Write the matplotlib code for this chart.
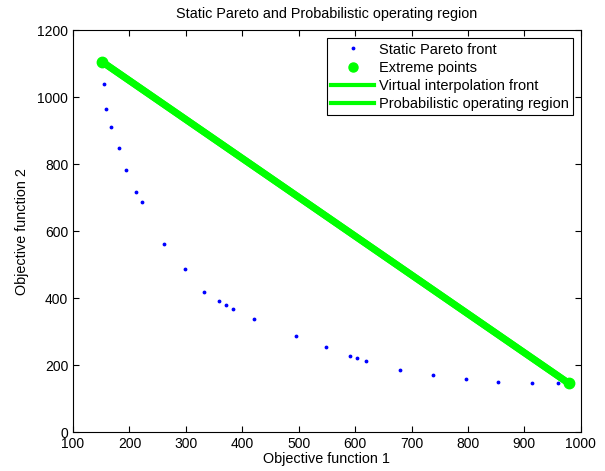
import numpy as np
import matplotlib
matplotlib.use('Agg')
import matplotlib.pyplot as plt

plt.rcParams['font.family'] = ['Liberation Sans', 'DejaVu Sans']

# static pareto front points
pareto_f1 = [155, 158, 167, 181, 194, 212, 222, 262, 298, 333, 359, 371, 384, 420,
             496, 549, 591, 604, 620, 680, 738, 797, 854, 913, 960]
pareto_f2 = [1040, 964, 912, 849, 781, 717, 686, 561, 486, 418, 391, 379, 367, 338,
             287, 254, 227, 220, 212, 185, 170, 158, 149, 146, 145]

# extreme points
extreme_f1 = [152, 979]
extreme_f2 = [1105, 145]

fig = plt.figure(figsize=(6.05, 4.71), dpi=100)
ax = fig.add_axes([0.1207, 0.0828, 0.8393, 0.8532])

ax.plot(pareto_f1, pareto_f2, '.', color='blue', markersize=3.5, label='Static Pareto front')
ax.plot(extreme_f1, extreme_f2, 'o', color='#00ff00', markersize=7.5, label='Extreme points')
ax.plot(extreme_f1, extreme_f2, '-', color='#00ff00', linewidth=5, label='Virtual interpolation front')
ax.plot(extreme_f1, extreme_f2, '-', color='#00ff00', linewidth=5, label='Probabilistic operating region')

ax.set_xlim(100, 1000)
ax.set_ylim(0, 1200)
ax.set_xticks(np.arange(100, 1001, 100))
ax.set_yticks(np.arange(0, 1201, 200))
ax.tick_params(direction='in', top=True, right=True, labelsize=10, length=4)

ax.set_title('Static Pareto and Probabilistic operating region', fontsize=10.4, pad=9)
ax.set_xlabel('Objective function 1', fontsize=10.4, labelpad=1)
ax.set_ylabel('Objective function 2', fontsize=10.4, labelpad=6)

leg = ax.legend(loc='upper right', fontsize=10.5, fancybox=False, framealpha=1,
                edgecolor='black', borderpad=0.3, labelspacing=0.28,
                handlelength=2.95, handletextpad=0.3, borderaxespad=0.55)
leg.get_frame().set_linewidth(0.8)
# legend handle lines are thinner than the plotted line
for h in leg.get_lines()[2:]:
    h.set_linewidth(3)
leg.get_lines()[1].set_markersize(6.5)

fig.savefig('out.png', dpi=100)
